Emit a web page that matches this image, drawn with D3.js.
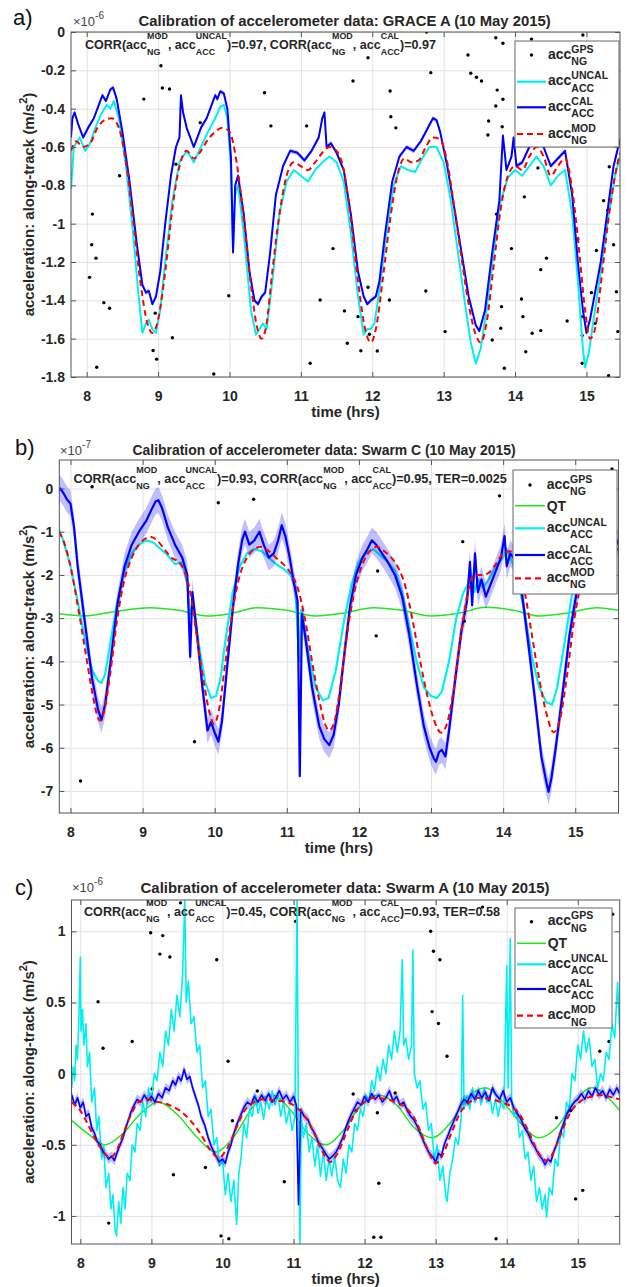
<!DOCTYPE html>
<html><head><meta charset="utf-8">
<script src="https://cdn.jsdelivr.net/npm/d3@7"></script>
<style>
body{margin:0;background:#fff}
text{font-family:"Liberation Sans",Arial,Helvetica,sans-serif;white-space:pre}
</style>
</head><body>
<svg id="fig" width="630" height="1287"></svg>
<script>
// ---------------- DATA ----------------
const xTicks = [8, 9, 10, 11, 12, 13, 14, 15];
const aYTicks = [0, -0.2, -0.4, -0.6, -0.8, -1, -1.2, -1.4, -1.6, -1.8];
const bYTicks = [0, -1, -2, -3, -4, -5, -6, -7];
const cYTicks = [1, 0.5, 0, -0.5, -1];
const titles = [
  "Calibration of accelerometer data: GRACE A (10 May 2015)",
  "Calibration of accelerometer data: Swarm C (10 May 2015)",
  "Calibration of accelerometer data: Swarm A (10 May 2015)"
];
const panelLabels = ["a)", "b)", "c)"];
const exponents = ["-6", "-7", "-6"];
const corrUncal = ["0.97", "0.93", "0.45"];
const corrCal = ["0.97", "0.95", "0.93"];
const terValues = [null, "0.0025", "0.58"];
const xLabel = "time (hrs)";
const yLabel = "acceleration: along-track (m/s";

// Panel a: GRACE A (x1e-6)
const aGps = [[8.14,-1.749],[8.24,-1.412],[8.32,-1.441],[8.08,-0.95],[8.07,-1.11],[8.13,-1.18],[8.04,-1.28],[8.46,-0.75],[8.80,-0.35],[8.96,-1.467],[8.93,-1.662],[8.98,-1.707],[9.04,-0.176],[9.06,-0.292],[9.16,-0.297],[9.20,-1.595],[9.25,-0.69],[9.59,-0.473],[9.78,-1.784],[9.99,-1.376],[10.49,-0.317],[10.58,-0.49],[11.08,-0.49],[11.13,-1.728],[11.27,-1.398],[11.45,-1.13],[11.61,-1.455],[11.65,-1.624],[11.73,-0.256],[11.80,-1.485],[11.84,-1.663],[11.94,-0.134],[11.94,-1.332],[11.96,-1.577],[12.07,-1.664],[12.24,-1.398],[12.25,-0.308],[12.26,-0.442],[12.33,-0.5],[12.75,-1.351],[12.76,0.0],[12.82,-0.212],[13.02,-1.563],[13.34,-0.12],[13.38,-0.215],[13.46,-0.236],[13.53,-0.256],[13.62,-0.537],[13.63,-0.464],[13.68,-1.607],[13.73,-0.03],[13.73,-0.386],[13.74,-0.95],[13.75,-0.303],[13.80,-1.546],[13.81,-1.433],[13.82,-0.494],[13.83,-0.059],[13.83,-0.351],[13.85,-1.754],[13.95,-1.13],[14.09,-1.393],[14.11,-1.485],[14.13,-0.86],[14.15,-1.668],[14.23,-0.037],[14.24,-1.572],[14.32,-0.709],[14.36,-1.558],[14.36,-1.24],[14.44,-1.18],[14.73,-1.508],[14.88,-1.08],[14.93,-1.485],[14.94,-1.584],[14.94,-1.728],[14.95,-0.016],[15.07,-1.36],[15.12,-1.52],[15.14,-1.14],[15.24,-0.88],[15.30,-0.93],[15.31,-1.793],[15.32,-0.703],[15.38,-1.11],[15.42,-1.355],[15.44,-1.563]];
const aUncal = [[7.78,-0.82],[7.82,-0.6],[7.9,-0.55],[7.98,-0.62],[8.05,-0.58],[8.12,-0.5],[8.2,-0.43],[8.28,-0.38],[8.33,-0.4],[8.38,-0.36],[8.45,-0.45],[8.55,-0.7],[8.65,-1.05],[8.72,-1.35],[8.78,-1.57],[8.83,-1.52],[8.87,-1.5],[8.92,-1.55],[8.97,-1.57],[9.03,-1.45],[9.1,-1.2],[9.2,-0.88],[9.3,-0.68],[9.4,-0.62],[9.5,-0.68],[9.6,-0.6],[9.7,-0.52],[9.8,-0.45],[9.87,-0.39],[9.92,-0.38],[9.97,-0.45],[10.02,-0.7],[10.05,-1.12],[10.08,-0.85],[10.12,-0.8],[10.2,-1.05],[10.3,-1.45],[10.37,-1.58],[10.42,-1.55],[10.47,-1.52],[10.52,-1.55],[10.6,-1.3],[10.7,-0.95],[10.8,-0.78],[10.9,-0.72],[11.0,-0.75],[11.1,-0.78],[11.2,-0.72],[11.3,-0.68],[11.4,-0.65],[11.5,-0.68],[11.6,-0.78],[11.7,-1.05],[11.8,-1.38],[11.88,-1.58],[11.93,-1.55],[11.98,-1.55],[12.03,-1.52],[12.1,-1.35],[12.2,-1.05],[12.3,-0.8],[12.4,-0.7],[12.5,-0.72],[12.6,-0.73],[12.7,-0.66],[12.8,-0.6],[12.9,-0.6],[13.0,-0.68],[13.1,-0.88],[13.2,-1.15],[13.3,-1.42],[13.38,-1.62],[13.45,-1.73],[13.52,-1.65],[13.6,-1.45],[13.7,-1.15],[13.8,-0.88],[13.9,-0.76],[14.0,-0.72],[14.1,-0.75],[14.2,-0.7],[14.3,-0.65],[14.4,-0.7],[14.5,-0.8],[14.6,-0.75],[14.7,-0.72],[14.8,-0.95],[14.88,-1.3],[14.95,-1.65],[14.98,-1.75],[15.03,-1.68],[15.1,-1.5],[15.2,-1.25],[15.3,-0.98],[15.4,-0.75],[15.47,-0.65]];
const aCal = [[7.78,-0.55],[7.8,-0.45],[7.83,-0.42],[7.88,-0.48],[7.95,-0.55],[8.02,-0.5],[8.1,-0.45],[8.17,-0.38],[8.22,-0.33],[8.27,-0.36],[8.33,-0.3],[8.37,-0.29],[8.42,-0.35],[8.5,-0.52],[8.6,-0.78],[8.7,-1.1],[8.78,-1.32],[8.83,-1.36],[8.87,-1.35],[8.92,-1.42],[8.97,-1.38],[9.03,-1.25],[9.1,-1.0],[9.18,-0.75],[9.25,-0.6],[9.3,-0.55],[9.32,-0.33],[9.35,-0.42],[9.4,-0.5],[9.5,-0.6],[9.6,-0.5],[9.68,-0.45],[9.75,-0.38],[9.8,-0.33],[9.83,-0.35],[9.87,-0.31],[9.92,-0.32],[9.97,-0.4],[10.02,-0.65],[10.05,-1.15],[10.08,-0.8],[10.12,-0.75],[10.2,-0.95],[10.28,-1.25],[10.35,-1.4],[10.4,-1.42],[10.45,-1.38],[10.5,-1.36],[10.57,-1.15],[10.65,-0.85],[10.75,-0.7],[10.85,-0.62],[10.95,-0.63],[11.05,-0.67],[11.15,-0.62],[11.25,-0.55],[11.3,-0.45],[11.33,-0.42],[11.36,-0.6],[11.42,-0.58],[11.5,-0.63],[11.6,-0.72],[11.7,-0.95],[11.8,-1.25],[11.88,-1.38],[11.93,-1.42],[11.98,-1.4],[12.05,-1.38],[12.1,-1.3],[12.18,-1.05],[12.28,-0.78],[12.38,-0.65],[12.48,-0.6],[12.58,-0.62],[12.68,-0.57],[12.78,-0.5],[12.85,-0.45],[12.9,-0.46],[12.95,-0.52],[13.05,-0.7],[13.15,-0.92],[13.25,-1.15],[13.35,-1.38],[13.45,-1.53],[13.5,-1.56],[13.58,-1.45],[13.68,-1.15],[13.78,-0.88],[13.83,-0.54],[13.88,-0.72],[13.95,-0.65],[13.98,-0.55],[14.02,-0.7],[14.1,-0.68],[14.2,-0.6],[14.3,-0.55],[14.4,-0.6],[14.5,-0.7],[14.6,-0.66],[14.7,-0.62],[14.8,-0.85],[14.88,-1.2],[14.95,-1.45],[15.0,-1.57],[15.05,-1.5],[15.1,-1.4],[15.2,-1.2],[15.3,-0.92],[15.38,-0.7],[15.47,-0.56]];
const aMod = [[7.78,-0.62],[7.85,-0.57],[7.95,-0.6],[8.05,-0.58],[8.15,-0.5],[8.25,-0.46],[8.35,-0.45],[8.45,-0.5],[8.55,-0.68],[8.65,-0.98],[8.75,-1.3],[8.85,-1.52],[8.92,-1.57],[9.0,-1.5],[9.1,-1.25],[9.2,-0.92],[9.3,-0.7],[9.4,-0.62],[9.5,-0.66],[9.6,-0.62],[9.7,-0.56],[9.8,-0.52],[9.9,-0.5],[10.0,-0.52],[10.1,-0.68],[10.2,-0.98],[10.3,-1.32],[10.38,-1.53],[10.45,-1.6],[10.52,-1.52],[10.6,-1.25],[10.7,-0.95],[10.8,-0.75],[10.9,-0.68],[11.0,-0.7],[11.1,-0.72],[11.2,-0.68],[11.3,-0.63],[11.4,-0.6],[11.5,-0.62],[11.6,-0.72],[11.7,-0.98],[11.8,-1.3],[11.9,-1.55],[11.98,-1.62],[12.05,-1.55],[12.15,-1.28],[12.25,-0.98],[12.35,-0.75],[12.45,-0.66],[12.55,-0.68],[12.65,-0.67],[12.75,-0.6],[12.85,-0.55],[12.95,-0.56],[13.05,-0.68],[13.15,-0.92],[13.25,-1.18],[13.35,-1.42],[13.45,-1.58],[13.52,-1.62],[13.6,-1.52],[13.7,-1.22],[13.8,-0.92],[13.9,-0.75],[14.0,-0.7],[14.1,-0.72],[14.2,-0.65],[14.3,-0.6],[14.4,-0.65],[14.5,-0.75],[14.6,-0.7],[14.7,-0.66],[14.8,-0.82],[14.9,-1.15],[14.98,-1.45],[15.05,-1.6],[15.12,-1.55],[15.2,-1.32],[15.3,-1.0],[15.4,-0.75],[15.47,-0.63]];

// Panel b: Swarm C (x1e-7)
const bGps = [[8.30,0.04],[8.14,-6.77],[9.72,-5.86],[10.05,-0.33],[10.54,-0.25],[12.26,-1.91],[12.24,-3.41],[13.44,-1.23],[13.46,-3.07],[13.95,-0.17],[15.51,0.45]];
const bQt = [[7.84,-2.9],[8.2,-2.95],[8.6,-2.85],[9.1,-2.76],[9.5,-2.82],[9.9,-2.95],[10.2,-2.9],[10.6,-2.76],[11.0,-2.82],[11.4,-2.95],[11.8,-2.88],[12.2,-2.76],[12.6,-2.82],[13.0,-2.95],[13.4,-2.88],[13.75,-2.75],[14.15,-2.82],[14.5,-2.95],[14.9,-2.88],[15.3,-2.76],[15.6,-2.82]];
const bUncal = [[7.84,-0.95],[7.9,-1.2],[8.0,-1.8],[8.1,-2.6],[8.2,-3.5],[8.3,-4.2],[8.38,-4.45],[8.43,-4.5],[8.48,-4.3],[8.55,-3.6],[8.65,-2.6],[8.75,-1.9],[8.85,-1.5],[8.95,-1.3],[9.05,-1.2],[9.15,-1.25],[9.25,-1.4],[9.35,-1.55],[9.45,-1.75],[9.55,-1.7],[9.62,-2.2],[9.66,-3.0],[9.7,-2.6],[9.78,-3.6],[9.87,-4.5],[9.95,-4.85],[10.02,-4.8],[10.08,-4.4],[10.15,-3.5],[10.25,-2.4],[10.35,-1.8],[10.45,-1.5],[10.55,-1.4],[10.65,-1.45],[10.75,-1.6],[10.85,-1.75],[10.95,-1.85],[11.05,-2.0],[11.12,-2.3],[11.17,-4.0],[11.2,-2.8],[11.3,-3.8],[11.4,-4.6],[11.5,-4.9],[11.58,-4.85],[11.68,-4.2],[11.8,-3.0],[11.9,-2.2],[12.0,-1.7],[12.1,-1.5],[12.2,-1.4],[12.3,-1.55],[12.4,-1.7],[12.5,-1.9],[12.6,-2.4],[12.7,-3.2],[12.8,-4.0],[12.9,-4.6],[13.0,-4.8],[13.08,-4.85],[13.15,-4.7],[13.25,-4.0],[13.35,-3.0],[13.45,-2.4],[13.52,-2.2],[13.55,-1.9],[13.6,-2.4],[13.65,-2.1],[13.72,-2.3],[13.8,-2.1],[13.9,-1.8],[14.0,-1.6],[14.05,-1.4],[14.1,-1.6],[14.2,-2.0],[14.3,-2.9],[14.4,-3.9],[14.5,-4.6],[14.6,-4.95],[14.68,-5.0],[14.75,-4.6],[14.85,-3.6],[14.95,-2.5],[15.05,-1.9],[15.15,-1.6],[15.25,-1.5],[15.35,-1.55],[15.45,-1.65],[15.52,-1.45],[15.6,-1.4]];
const bCal = [[7.84,-0.05],[7.86,0.0],[7.9,-0.1],[7.95,-0.25],[8.0,-0.35],[8.05,-0.9],[8.1,-1.8],[8.2,-3.1],[8.3,-4.4],[8.38,-5.1],[8.43,-5.36],[8.48,-5.0],[8.55,-4.1],[8.65,-2.7],[8.75,-1.8],[8.85,-1.3],[8.95,-1.0],[9.05,-0.75],[9.12,-0.5],[9.18,-0.3],[9.22,-0.27],[9.27,-0.45],[9.35,-0.9],[9.45,-1.3],[9.55,-1.6],[9.62,-2.0],[9.66,-3.9],[9.69,-2.4],[9.75,-3.3],[9.83,-4.6],[9.9,-5.6],[9.95,-5.4],[10.0,-5.65],[10.05,-5.86],[10.1,-5.4],[10.18,-4.0],[10.25,-2.8],[10.32,-1.8],[10.38,-1.2],[10.42,-1.0],[10.48,-1.3],[10.55,-1.2],[10.62,-1.0],[10.68,-1.3],[10.75,-1.6],[10.82,-1.5],[10.88,-1.2],[10.93,-0.85],[10.98,-1.1],[11.04,-1.6],[11.1,-2.2],[11.15,-2.6],[11.18,-6.66],[11.21,-2.9],[11.27,-3.6],[11.35,-4.6],[11.45,-5.5],[11.52,-5.8],[11.59,-5.94],[11.65,-5.7],[11.72,-5.0],[11.8,-3.8],[11.88,-2.7],[11.96,-2.0],[12.05,-1.6],[12.12,-1.4],[12.18,-1.2],[12.24,-1.3],[12.32,-1.5],[12.4,-1.7],[12.5,-2.0],[12.6,-2.5],[12.7,-3.4],[12.8,-4.5],[12.9,-5.5],[12.98,-6.0],[13.04,-6.25],[13.07,-6.32],[13.11,-6.1],[13.15,-6.05],[13.2,-6.2],[13.25,-5.6],[13.33,-4.5],[13.42,-3.3],[13.5,-2.6],[13.54,-1.7],[13.57,-2.7],[13.61,-1.5],[13.65,-2.4],[13.7,-2.1],[13.76,-2.5],[13.83,-2.2],[13.9,-1.9],[13.97,-1.6],[14.02,-1.1],[14.05,-1.8],[14.1,-1.5],[14.18,-1.7],[14.26,-2.4],[14.35,-3.6],[14.45,-5.0],[14.53,-6.2],[14.6,-6.8],[14.63,-7.02],[14.67,-6.7],[14.73,-6.0],[14.82,-4.8],[14.92,-3.4],[15.02,-2.4],[15.12,-1.9],[15.22,-1.6],[15.32,-1.45],[15.42,-1.6],[15.5,-1.3],[15.55,-1.1],[15.6,-1.3]];
const bMod = [[7.84,-1.0],[7.9,-1.2],[8.0,-1.8],[8.1,-2.7],[8.2,-3.7],[8.3,-4.7],[8.37,-5.25],[8.41,-5.37],[8.46,-5.2],[8.55,-4.3],[8.65,-3.0],[8.75,-2.1],[8.85,-1.6],[8.95,-1.3],[9.05,-1.15],[9.12,-1.12],[9.2,-1.2],[9.3,-1.4],[9.4,-1.6],[9.5,-1.7],[9.58,-1.9],[9.66,-2.4],[9.75,-3.4],[9.85,-4.5],[9.93,-5.2],[9.99,-5.45],[10.05,-5.2],[10.15,-4.0],[10.25,-2.8],[10.35,-2.0],[10.45,-1.6],[10.55,-1.4],[10.65,-1.35],[10.75,-1.45],[10.85,-1.6],[10.95,-1.75],[11.05,-1.95],[11.15,-2.3],[11.25,-3.0],[11.35,-4.0],[11.45,-4.9],[11.53,-5.45],[11.59,-5.6],[11.66,-5.4],[11.75,-4.5],[11.85,-3.2],[11.95,-2.3],[12.05,-1.75],[12.15,-1.45],[12.25,-1.35],[12.35,-1.45],[12.45,-1.6],[12.55,-1.85],[12.65,-2.3],[12.75,-3.1],[12.85,-4.0],[12.95,-4.8],[13.05,-5.4],[13.14,-5.65],[13.22,-5.45],[13.3,-4.8],[13.4,-3.6],[13.5,-2.5],[13.6,-2.0],[13.7,-2.0],[13.8,-1.95],[13.9,-1.75],[14.0,-1.5],[14.1,-1.45],[14.2,-1.7],[14.3,-2.4],[14.4,-3.4],[14.5,-4.4],[14.6,-5.2],[14.7,-5.64],[14.78,-5.4],[14.88,-4.4],[14.98,-3.1],[15.08,-2.2],[15.18,-1.7],[15.28,-1.5],[15.38,-1.5],[15.48,-1.5],[15.6,-1.4]];

// Panel c: Swarm A (x1e-6)
const cGps = [[9.41,1.2],[8.99,0.99],[9.16,0.97],[9.12,0.84],[9.26,0.82],[9.92,0.80],[11.03,1.07],[12.93,1.0],[12.97,0.86],[13.06,0.8],[13.66,1.17],[14.36,1.05],[15.49,1.12],[8.40,-1.05],[9.31,-0.71],[9.76,-0.66],[9.98,-1.14],[10.09,-1.16],[10.87,-0.76],[12.13,-1.15],[12.23,-1.15],[12.2,-0.77],[13.85,-1.16],[14.97,-0.88],[15.07,-0.82],[8.25,0.505],[8.32,0.178],[8.73,0.226],[9.01,-0.108],[10.08,0.087],[10.14,-0.331],[10.49,-0.122],[11.84,-0.143],[11.88,-0.261],[12.18,-0.275],[12.43,-0.136],[12.95,0.436],[13.04,0.352],[13.16,0.122],[13.42,-0.199],[14.70,-0.31],[14.9,-0.26],[15.31,0.157],[15.44,0.226]];
const cQt = [[7.88,-0.33],[8.1,-0.42],[8.35,-0.5],[8.6,-0.42],[8.85,-0.28],[9.1,-0.2],[9.35,-0.28],[9.65,-0.45],[9.9,-0.55],[10.15,-0.45],[10.45,-0.22],[10.7,-0.15],[10.95,-0.25],[11.2,-0.42],[11.45,-0.5],[11.7,-0.4],[11.95,-0.22],[12.2,-0.15],[12.45,-0.22],[12.7,-0.38],[12.95,-0.45],[13.2,-0.35],[13.45,-0.17],[13.7,-0.1],[13.95,-0.2],[14.2,-0.35],[14.45,-0.45],[14.7,-0.38],[14.95,-0.2],[15.2,-0.1],[15.45,-0.18],[15.59,-0.26]];
const cUncal = [[7.88,-0.1],[7.9,0.05],[7.92,-0.05],[7.94,0.2],[7.96,0.1],[7.98,0.4],[8.0,0.82],[8.01,0.3],[8.03,0.45],[8.05,0.2],[8.08,0.35],[8.1,0.05],[8.13,0.15],[8.16,-0.2],[8.2,-0.1],[8.23,-0.4],[8.26,-0.3],[8.3,-0.6],[8.33,-0.5],[8.36,-0.8],[8.4,-0.7],[8.43,-0.95],[8.46,-0.85],[8.49,-1.1],[8.51,-1.14],[8.54,-0.9],[8.57,-1.05],[8.6,-0.8],[8.63,-0.95],[8.66,-0.7],[8.7,-0.75],[8.73,-0.5],[8.77,-0.55],[8.8,-0.35],[8.84,-0.4],[8.88,-0.2],[8.92,-0.3],[8.96,-0.1],[9.0,-0.2],[9.04,0.0],[9.08,-0.05],[9.12,0.15],[9.16,0.05],[9.2,0.3],[9.24,0.2],[9.28,0.45],[9.32,0.3],[9.36,0.55],[9.4,0.4],[9.44,0.7],[9.47,1.22],[9.49,0.5],[9.52,0.65],[9.56,0.35],[9.6,0.4],[9.64,0.15],[9.68,0.2],[9.72,-0.1],[9.76,-0.05],[9.8,-0.3],[9.84,-0.25],[9.88,-0.5],[9.92,-0.45],[9.96,-0.65],[10.0,-0.6],[10.04,-0.85],[10.08,-0.7],[10.12,-0.9],[10.16,-0.75],[10.2,-1.06],[10.23,-0.7],[10.26,-0.6],[10.3,-0.35],[10.34,-0.45],[10.38,-0.25],[10.42,-0.3],[10.46,-0.15],[10.5,-0.28],[10.54,-0.2],[10.58,-0.32],[10.62,-0.18],[10.66,-0.25],[10.7,-0.12],[10.74,-0.22],[10.78,-0.15],[10.82,-0.3],[10.86,-0.2],[10.9,-0.35],[10.94,-0.25],[10.98,-0.4],[11.02,-0.3],[11.05,1.22],[11.07,-0.5],[11.09,-1.2],[11.11,-0.3],[11.14,-0.45],[11.18,-0.35],[11.22,-0.55],[11.26,-0.45],[11.3,-0.65],[11.34,-0.5],[11.38,-0.72],[11.42,-0.55],[11.46,-0.75],[11.5,-0.6],[11.54,-0.72],[11.58,-0.58],[11.62,-0.75],[11.66,-0.8],[11.7,-0.6],[11.74,-0.7],[11.78,-0.5],[11.82,-0.55],[11.86,-0.35],[11.9,-0.4],[11.94,-0.25],[11.98,-0.3],[12.02,-0.15],[12.06,-0.2],[12.1,-0.05],[12.14,-0.12],[12.18,0.05],[12.22,-0.05],[12.26,0.1],[12.3,0.0],[12.34,0.2],[12.38,0.1],[12.42,0.3],[12.46,0.15],[12.5,0.3],[12.53,0.8],[12.55,0.2],[12.58,0.25],[12.62,0.1],[12.66,0.2],[12.68,0.87],[12.7,0.0],[12.74,-0.1],[12.78,-0.05],[12.82,-0.25],[12.86,-0.2],[12.9,-0.4],[12.94,-0.35],[12.98,-0.6],[13.02,-0.5],[13.06,-0.75],[13.1,-0.65],[13.14,-0.85],[13.16,-0.9],[13.2,-0.7],[13.24,-0.6],[13.28,-0.45],[13.32,-0.5],[13.36,-0.3],[13.38,0.55],[13.4,-0.25],[13.44,-0.15],[13.48,-0.25],[13.52,-0.1],[13.56,-0.2],[13.6,-0.12],[13.64,-0.22],[13.68,-0.1],[13.72,-0.2],[13.76,-0.15],[13.8,-0.28],[13.84,-0.18],[13.88,-0.3],[13.92,-0.2],[13.96,-0.25],[14.0,0.76],[14.02,-0.1],[14.05,0.95],[14.07,-0.2],[14.1,-0.3],[14.14,-0.25],[14.18,-0.45],[14.22,-0.4],[14.26,-0.6],[14.3,-0.55],[14.34,-0.75],[14.38,-0.65],[14.42,-0.9],[14.46,-0.8],[14.5,-0.95],[14.54,-0.85],[14.56,-1.01],[14.6,-0.8],[14.64,-0.85],[14.68,-0.6],[14.72,-0.65],[14.76,-0.4],[14.8,-0.45],[14.84,-0.2],[14.88,-0.25],[14.92,0.0],[14.96,-0.05],[15.0,0.2],[15.04,0.1],[15.08,0.3],[15.12,0.15],[15.16,0.25],[15.2,0.05],[15.24,0.1],[15.28,-0.1],[15.32,0.0],[15.36,-0.05],[15.4,0.15],[15.44,0.1],[15.48,0.35],[15.52,0.25],[15.56,0.64],[15.59,0.3]];
const cCal = [[7.88,-0.15],[7.92,-0.22],[7.96,-0.17],[8.0,-0.24],[8.04,-0.2],[8.08,-0.3],[8.12,-0.28],[8.16,-0.38],[8.2,-0.42],[8.24,-0.48],[8.28,-0.5],[8.32,-0.55],[8.36,-0.57],[8.4,-0.6],[8.44,-0.58],[8.48,-0.61],[8.52,-0.55],[8.56,-0.5],[8.6,-0.45],[8.64,-0.38],[8.68,-0.32],[8.72,-0.26],[8.76,-0.22],[8.8,-0.18],[8.85,-0.2],[8.9,-0.15],[8.95,-0.19],[9.0,-0.16],[9.05,-0.2],[9.1,-0.14],[9.15,-0.17],[9.2,-0.1],[9.25,-0.12],[9.3,-0.05],[9.34,-0.08],[9.38,-0.02],[9.42,-0.05],[9.46,0.03],[9.5,-0.04],[9.54,-0.02],[9.58,-0.1],[9.62,-0.16],[9.66,-0.22],[9.7,-0.3],[9.75,-0.36],[9.8,-0.45],[9.85,-0.52],[9.9,-0.57],[9.95,-0.62],[10.0,-0.6],[10.04,-0.63],[10.08,-0.55],[10.12,-0.5],[10.16,-0.42],[10.2,-0.36],[10.25,-0.3],[10.3,-0.24],[10.35,-0.2],[10.4,-0.22],[10.45,-0.16],[10.5,-0.2],[10.55,-0.15],[10.6,-0.19],[10.65,-0.14],[10.7,-0.2],[10.75,-0.17],[10.8,-0.12],[10.85,-0.18],[10.9,-0.15],[10.95,-0.2],[11.0,-0.16],[11.04,-0.22],[11.07,-0.92],[11.1,-0.25],[11.15,-0.3],[11.2,-0.32],[11.25,-0.38],[11.3,-0.42],[11.35,-0.48],[11.4,-0.52],[11.45,-0.56],[11.5,-0.6],[11.55,-0.58],[11.6,-0.55],[11.65,-0.5],[11.7,-0.44],[11.75,-0.36],[11.8,-0.3],[11.85,-0.25],[11.9,-0.2],[11.95,-0.22],[12.0,-0.16],[12.05,-0.2],[12.1,-0.14],[12.15,-0.18],[12.2,-0.15],[12.25,-0.2],[12.3,-0.17],[12.35,-0.12],[12.4,-0.19],[12.45,-0.16],[12.5,-0.22],[12.55,-0.2],[12.6,-0.26],[12.65,-0.3],[12.7,-0.33],[12.75,-0.38],[12.8,-0.44],[12.85,-0.5],[12.9,-0.55],[12.95,-0.58],[13.0,-0.62],[13.04,-0.56],[13.08,-0.58],[13.12,-0.5],[13.16,-0.45],[13.2,-0.4],[13.25,-0.34],[13.3,-0.28],[13.35,-0.22],[13.4,-0.18],[13.45,-0.2],[13.5,-0.14],[13.55,-0.18],[13.6,-0.12],[13.65,-0.17],[13.7,-0.13],[13.75,-0.19],[13.8,-0.1],[13.85,-0.15],[13.9,-0.18],[13.95,-0.12],[14.0,-0.2],[14.05,-0.17],[14.1,-0.24],[14.15,-0.28],[14.2,-0.32],[14.25,-0.38],[14.3,-0.42],[14.35,-0.48],[14.4,-0.52],[14.45,-0.57],[14.5,-0.6],[14.54,-0.64],[14.58,-0.6],[14.62,-0.62],[14.66,-0.55],[14.7,-0.5],[14.75,-0.42],[14.8,-0.35],[14.85,-0.28],[14.9,-0.24],[14.95,-0.2],[15.0,-0.18],[15.05,-0.14],[15.1,-0.18],[15.15,-0.12],[15.2,-0.16],[15.25,-0.1],[15.3,-0.15],[15.35,-0.12],[15.4,-0.17],[15.45,-0.11],[15.5,-0.15],[15.55,-0.1],[15.59,-0.14]];
const cMod = [[7.88,-0.2],[8.0,-0.26],[8.1,-0.35],[8.2,-0.45],[8.3,-0.53],[8.42,-0.59],[8.52,-0.53],[8.62,-0.4],[8.72,-0.28],[8.82,-0.2],[8.95,-0.18],[9.1,-0.2],[9.25,-0.22],[9.4,-0.26],[9.55,-0.33],[9.7,-0.43],[9.82,-0.53],[9.95,-0.59],[10.06,-0.53],[10.18,-0.4],[10.3,-0.27],[10.45,-0.2],[10.6,-0.18],[10.75,-0.19],[10.9,-0.2],[11.05,-0.24],[11.2,-0.33],[11.32,-0.45],[11.42,-0.56],[11.52,-0.62],[11.62,-0.56],[11.74,-0.42],[11.86,-0.28],[12.0,-0.2],[12.15,-0.17],[12.3,-0.18],[12.45,-0.2],[12.6,-0.25],[12.72,-0.33],[12.82,-0.45],[12.92,-0.57],[13.0,-0.63],[13.1,-0.57],[13.22,-0.42],[13.34,-0.28],[13.48,-0.2],[13.62,-0.17],[13.78,-0.18],[13.92,-0.2],[14.06,-0.23],[14.2,-0.3],[14.32,-0.42],[14.44,-0.55],[14.56,-0.61],[14.66,-0.55],[14.78,-0.4],[14.9,-0.27],[15.05,-0.19],[15.2,-0.16],[15.35,-0.15],[15.5,-0.17],[15.59,-0.18]];

// CAL uncertainty half-widths (same units as each panel)
const calBand = [0.012, 0.3, 0.035];

// ---------------- LAYOUT ----------------
const layout = [
  {x0:71, x1:620, y0:32, y1:377, xd:[7.78,15.47], yd:[-1.8,0], yTicks:aYTicks,
   title:[138.6,551,25.5], lab:[13,25], exp:[73,26], corr:[85,436,49],
   leg:{x:515,y:41,w:104,h:106,rows:[55,81.7,107.3,134],lx0:517,lx1:546,tx:548}, lw:2},
  {x0:59.3, x1:618.5, y0:460, y1:813, xd:[7.845,15.6], yd:[-7.51,0.66], yTicks:bYTicks,
   title:[132.5,516,454.5], lab:[15,455], exp:[60,454.5], corr:[73.5,507,483],
   leg:{x:513,y:470,w:104,h:124,rows:[485,505.7,528.3,555,578.3],lx0:515,lx1:545,tx:546.7}, lw:2.2},
  {x0:71.5, x1:619.7, y0:900, y1:1244, xd:[7.876,15.59], yd:[-1.197,1.22], yTicks:cYTicks,
   title:[140.6,550,893], lab:[15,895], exp:[72,892], corr:[84,500,916],
   leg:{x:515,y:908,w:97,h:120,rows:[921.7,943.3,964.3,989,1015.7],lx0:517,lx1:546,tx:547.7}, lw:1.6}
];
const series = [
  {gps:aGps, qt:null, uncal:aUncal, cal:aCal, mod:aMod},
  {gps:bGps, qt:bQt, uncal:bUncal, cal:bCal, mod:bMod},
  {gps:cGps, qt:cQt, uncal:cUncal, cal:cCal, mod:cMod}
];
const COL = {qt:"#22e622", uncal:"#00f0f0", cal:"#0000ff", mod:"#ff0000", band:"#0000ff", axis:"#555", grid:"#e2e2e2", txt:"#262626"};

const svg = d3.select("#fig");

function rich(parent, parts, fs, ss, supDy, subDy, weight, fill) {
  const g = parent.append("g");
  let x = 0;
  for (const p of parts) {
    if (typeof p === "string") {
      const t = g.append("text").attr("x", x).attr("y", 0).attr("font-size", fs)
        .attr("font-weight", weight).attr("fill", fill).text(p);
      x += t.node().getComputedTextLength();
    } else {
      let w = 0;
      if (p[0]) {
        const t = g.append("text").attr("x", x).attr("y", supDy).attr("font-size", ss)
          .attr("font-weight", weight).attr("fill", fill).text(p[0]);
        w = Math.max(w, t.node().getComputedTextLength());
      }
      if (p[1]) {
        const t = g.append("text").attr("x", x).attr("y", subDy).attr("font-size", ss)
          .attr("font-weight", weight).attr("fill", fill).text(p[1]);
        w = Math.max(w, t.node().getComputedTextLength());
      }
      x += w;
    }
  }
  return {g, w:x};
}
function fitTo(r, x0, x1, y) {
  const s = (x1 - x0) / r.w;
  r.g.attr("transform", `translate(${x0},${y}) scale(${s},1)`);
}

layout.forEach((L, i) => {
  const S = series[i];
  const x = d3.scaleLinear().domain(L.xd).range([L.x0, L.x1]);
  const y = d3.scaleLinear().domain(L.yd).range([L.y1, L.y0]);
  const W = L.x1 - L.x0, H = L.y1 - L.y0;
  const P = svg.append("g");

  // grid
  P.append("g").attr("transform", `translate(0,${L.y1})`)
    .call(d3.axisBottom(x).tickValues(xTicks).tickSize(-H).tickFormat(""))
    .call(g => { g.select(".domain").remove(); g.selectAll("line").attr("stroke", COL.grid); });
  P.append("g").attr("transform", `translate(${L.x0},0)`)
    .call(d3.axisLeft(y).tickValues(L.yTicks).tickSize(-W).tickFormat(""))
    .call(g => { g.select(".domain").remove(); g.selectAll("line").attr("stroke", COL.grid); });

  // clip
  const cid = "clip" + i;
  P.append("clipPath").attr("id", cid).append("rect")
    .attr("x", L.x0).attr("y", L.y0).attr("width", W).attr("height", H);
  const D = P.append("g").attr("clip-path", `url(#${cid})`);
  const line = d3.line().x(d => x(d[0])).y(d => y(d[1]));
  const smooth = d3.line().x(d => x(d[0])).y(d => y(d[1])).curve(d3.curveMonotoneX);

  D.selectAll("circle.gps").data(S.gps).join("circle")
    .attr("cx", d => x(d[0])).attr("cy", d => y(d[1])).attr("r", 1.7).attr("fill", "#000");
  if (S.qt) D.append("path").datum(S.qt).attr("d", smooth).attr("fill", "none")
    .attr("stroke", COL.qt).attr("stroke-width", 1.5);
  D.append("path").datum(S.uncal).attr("d", line).attr("fill", "none")
    .attr("stroke", COL.uncal).attr("stroke-width", L.lw).attr("stroke-linejoin", "round");
  const band = d3.area().x(d => x(d[0])).y0(d => y(d[1] - calBand[i])).y1(d => y(d[1] + calBand[i]));
  D.append("path").datum(S.cal).attr("d", band).attr("fill", COL.band).attr("opacity", 0.25);
  D.append("path").datum(S.cal).attr("d", line).attr("fill", "none")
    .attr("stroke", COL.cal).attr("stroke-width", L.lw).attr("stroke-linejoin", "round");
  D.append("path").datum(S.mod).attr("d", smooth).attr("fill", "none")
    .attr("stroke", COL.mod).attr("stroke-width", 2).attr("stroke-dasharray", "6,4");

  // axes: ticks inward on 4 sides
  const tickStyle = g => { g.select(".domain").remove(); g.selectAll("line").attr("stroke", COL.axis); };
  P.append("g").attr("transform", `translate(0,${L.y1})`)
    .call(d3.axisBottom(x).tickValues(xTicks).tickSizeInner(-5).tickSizeOuter(0).tickPadding(10).tickFormat(d3.format("d")))
    .call(tickStyle)
    .call(g => g.selectAll("text").attr("font-size", 14).attr("font-weight", "bold").attr("fill", COL.txt)
      .attr("font-family", "Liberation Sans, Arial, sans-serif").attr("y", 14).attr("dy", "0.71em"));
  P.append("g").attr("transform", `translate(0,${L.y0})`)
    .call(d3.axisTop(x).tickValues(xTicks).tickSizeInner(-5).tickSizeOuter(0).tickFormat(""))
    .call(tickStyle);
  P.append("g").attr("transform", `translate(${L.x0},0)`)
    .call(d3.axisLeft(y).tickValues(L.yTicks).tickSizeInner(-5).tickSizeOuter(0).tickPadding(6).tickFormat(d => String(d)))
    .call(tickStyle)
    .call(g => g.selectAll("text").attr("font-size", 14).attr("font-weight", "bold").attr("fill", COL.txt)
      .attr("font-family", "Liberation Sans, Arial, sans-serif").attr("x", -6));
  P.append("g").attr("transform", `translate(${L.x1},0)`)
    .call(d3.axisRight(y).tickValues(L.yTicks).tickSizeInner(-5).tickSizeOuter(0).tickFormat(""))
    .call(tickStyle);
  P.append("rect").attr("x", L.x0).attr("y", L.y0).attr("width", W).attr("height", H)
    .attr("fill", "none").attr("stroke", COL.axis).attr("stroke-width", 1);

  // x label
  P.append("text").attr("x", (L.x0 + L.x1) / 2).attr("y", L.y1 + 40).attr("text-anchor", "middle")
    .attr("font-size", 15).attr("font-weight", "bold").attr("fill", COL.txt).text(xLabel);
  // y label (rotated)
  const yl = P.append("g").attr("transform", `translate(34,${(L.y0 + L.y1) / 2}) rotate(-90)`);
  const ylr = rich(yl, [yLabel, ["2", null], ")"], 15, 11, -7, 0, "bold", COL.txt);
  ylr.g.attr("transform", `translate(${-ylr.w / 2},0)`);

  // title
  const tr = rich(P, [titles[i]], 14, 10, 0, 0, "bold", COL.txt);
  fitTo(tr, L.title[0], L.title[1], L.title[2]);
  // panel label
  P.append("text").attr("x", L.lab[0]).attr("y", L.lab[1]).attr("font-size", 22)
    .attr("font-family", "Liberation Serif, Times New Roman, serif").attr("fill", "#111").text(panelLabels[i]);
  // exponent
  const er = rich(P, ["\u00d710", [exponents[i], null]], 13, 10, -7, 0, "normal", "#444");
  er.g.attr("transform", `translate(${L.exp[0]},${L.exp[1]})`);

  // CORR annotation
  const parts = ["CORR(acc", ["MOD", "NG"], ", acc", ["UNCAL", "ACC"], ")=" + corrUncal[i] + ", CORR(acc",
    ["MOD", "NG"], ", acc", ["CAL", "ACC"], ")=" + corrCal[i] + (terValues[i] ? ", TER=" + terValues[i] : "")];
  const cr = rich(P, parts, 12, 8.5, -10, 6, "bold", COL.txt);
  fitTo(cr, L.corr[0], L.corr[1], L.corr[2]);

  // legend
  const G = L.leg;
  P.append("rect").attr("x", G.x).attr("y", G.y).attr("width", G.w).attr("height", G.h)
    .attr("fill", "#fff").attr("stroke", "#666").attr("stroke-width", 1);
  const entries = [{k:"gps", lab:["acc", ["GPS", "NG"]]}];
  if (S.qt) entries.push({k:"qt", lab:["QT"]});
  entries.push({k:"uncal", lab:["acc", ["UNCAL", "ACC"]]}, {k:"cal", lab:["acc", ["CAL", "ACC"]]}, {k:"mod", lab:["acc", ["MOD", "NG"]]});
  entries.forEach((e, j) => {
    const ry = G.rows[j];
    if (e.k === "gps") {
      P.append("circle").attr("cx", (G.lx0 + G.lx1) / 2).attr("cy", ry).attr("r", 1.7).attr("fill", "#000");
    } else {
      P.append("line").attr("x1", G.lx0).attr("x2", G.lx1).attr("y1", ry).attr("y2", ry)
        .attr("stroke", COL[e.k]).attr("stroke-width", e.k === "qt" ? 1.6 : 2.2)
        .attr("stroke-dasharray", e.k === "mod" ? "6,4" : null);
    }
    if (e.k === "qt") {
      P.append("text").attr("x", G.tx).attr("y", ry + 5).attr("font-size", 14).attr("font-weight", "bold")
        .attr("fill", COL.txt).text("QT");
    } else {
      const lr = rich(P, e.lab, 14, 10.5, -6, 6.5, "bold", COL.txt);
      lr.g.attr("transform", `translate(${G.tx},${ry + 3.5})`);
    }
  });
});
</script>
</body></html>
